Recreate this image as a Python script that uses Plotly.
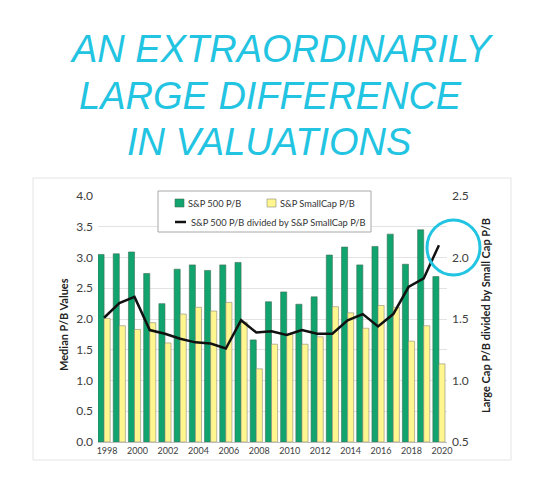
import plotly.graph_objects as go

years = list(range(1998, 2021))
sp500_pb = [3.05, 3.06, 3.09, 2.74, 2.25, 2.81, 2.88, 2.79, 2.88, 2.92, 1.66, 2.28,
            2.44, 2.24, 2.36, 3.04, 3.17, 2.88, 3.18, 3.38, 2.89, 3.45, 2.69]
smallcap_pb = [2.01, 1.89, 1.83, 1.94, 1.61, 2.08, 2.19, 2.13, 2.27, 1.95, 1.19, 1.59,
               1.75, 1.59, 1.71, 2.20, 2.10, 1.85, 2.22, 2.19, 1.64, 1.89, 1.27]
ratio = [1.51, 1.63, 1.68, 1.41, 1.38, 1.34, 1.31, 1.30, 1.26, 1.49, 1.39, 1.40,
         1.37, 1.41, 1.38, 1.38, 1.49, 1.54, 1.44, 1.54, 1.76, 1.83, 2.10]
left_ticks = [0.0, 0.5, 1.0, 1.5, 2.0, 2.5, 3.0, 3.5, 4.0]
right_ticks = [0.5, 1.0, 1.5, 2.0, 2.5]
title_lines = ["AN EXTRAORDINARILY", "LARGE DIFFERENCE", "IN VALUATIONS"]

# the page body adds an 8px margin, so the figure is made that much smaller
OFF = 8
W, H = 550 - OFF, 493 - OFF
L, R, T, B = 98 - OFF, 447 - OFF, 196 - OFF, 442 - OFF
GREEN = "#12A46E"
YELLOW = "#FFF68F"
CYAN = "#22C4E2"
FONT = "Lato"


# positions below are given in page pixels
def px(x):
    return (x - OFF - L) / (R - L)


def py(y):
    return (B - (y - OFF)) / (B - T)


fig = go.Figure()
fig.add_trace(go.Bar(x=years, y=sp500_pb, name="S&P 500 P/B",
                     marker=dict(color=GREEN, line=dict(color="#3d6e55", width=0.6))))
fig.add_trace(go.Bar(x=years, y=smallcap_pb, name="S&P SmallCap P/B",
                     marker=dict(color=YELLOW, line=dict(color="#8a8a7a", width=0.6))))
fig.add_trace(go.Scatter(x=years, y=ratio, yaxis="y2", mode="lines",
                         name="S&P 500 P/B divided by S&P SmallCap P/B",
                         line=dict(color="#111111", width=2.5)))

shapes = []
annotations = []

# outer chart frame
shapes.append(dict(type="rect", xref="paper", yref="paper",
                   x0=px(33), x1=px(511), y0=py(460), y1=py(178),
                   line=dict(color="#e4e4e4", width=1), layer="below"))

# legend box drawn by hand (two rows like the original)
shapes.append(dict(type="rect", xref="paper", yref="paper",
                   x0=px(158), x1=px(371), y0=py(232), y1=py(191),
                   line=dict(color="#a8a8a8", width=1), fillcolor="white"))
shapes.append(dict(type="rect", xref="paper", yref="paper",
                   x0=px(175), x1=px(184), y0=py(207), y1=py(199),
                   line=dict(color="#3d6e55", width=0.6), fillcolor=GREEN))
shapes.append(dict(type="rect", xref="paper", yref="paper",
                   x0=px(267), x1=px(276), y0=py(207), y1=py(199),
                   line=dict(color="#8a8a7a", width=0.6), fillcolor=YELLOW))
shapes.append(dict(type="line", xref="paper", yref="paper",
                   x0=px(175), x1=px(186), y0=py(222), y1=py(222),
                   line=dict(color="#111111", width=2.5)))
for x, y, txt in [(186, 203, "S&P 500 P/B"), (278, 203, "S&P SmallCap P/B"),
                  (189, 222, "S&P 500 P/B divided by S&P SmallCap P/B")]:
    annotations.append(dict(x=px(x), y=py(y), xref="paper", yref="paper", text=txt,
                            showarrow=False, xanchor="left", yanchor="middle",
                            font=dict(family=FONT, size=9.3, color="#333333")))

# hand drawn circle around the latest ratio
shapes.append(dict(type="circle", xref="paper", yref="paper",
                   x0=px(427), x1=px(480), y0=py(275), y1=py(220),
                   line=dict(color=CYAN, width=3)))

# handwritten-style title
for (cx, cy), txt in zip([(281, 49), (270, 96), (269, 142)], title_lines):
    annotations.append(dict(x=px(cx), y=py(cy), xref="paper", yref="paper", text=txt,
                            showarrow=False, xanchor="center", yanchor="middle",
                            font=dict(family="Liberation Sans", size=38, color=CYAN,
                                      style="italic")))

# axis titles
annotations.append(dict(x=px(63), y=py(325), xref="paper", yref="paper",
                        xanchor="center", yanchor="middle",
                        text="<b>Median P/B Values</b>", textangle=-90, showarrow=False,
                        font=dict(family=FONT, size=11, color="#222222")))
annotations.append(dict(x=px(485), y=py(316), xref="paper", yref="paper",
                        xanchor="center", yanchor="middle",
                        text="<b>Large Cap P/B divided by Small Cap P/B</b>", textangle=-90,
                        showarrow=False, font=dict(family=FONT, size=11, color="#222222")))

fig.update_layout(
    width=W, height=H,
    margin=dict(l=L, r=W - R, t=T, b=H - B),
    paper_bgcolor="white", plot_bgcolor="white",
    barmode="group", bargap=0.2, bargroupgap=0,
    showlegend=False,
    shapes=shapes, annotations=annotations,
    xaxis=dict(range=[1997.6, 2020.53], tickmode="array", tickvals=years[::2],
               ticktext=[str(y) for y in years[::2]], ticklabelshift=3,
               showgrid=False, showline=True, linecolor="#bdbdbd", linewidth=1,
               ticks="", tickfont=dict(family=FONT, size=9, color="#404040")),
    yaxis=dict(range=[0, 4], tickvals=left_ticks,
               ticktext=[f"{v:.1f}" for v in left_ticks],
               showgrid=True, gridcolor="#e3e3e3", gridwidth=1, zeroline=False,
               tickfont=dict(family=FONT, size=12, color="#404040"), ticklabelstandoff=4),
    yaxis2=dict(range=[0.5, 2.5], tickvals=right_ticks, overlaying="y", side="right",
                ticktext=[f"{v:.1f}" for v in right_ticks],
                showgrid=False, zeroline=False,
                tickfont=dict(family=FONT, size=12, color="#404040"), ticklabelstandoff=4),
)

fig.write_html("out.html")
